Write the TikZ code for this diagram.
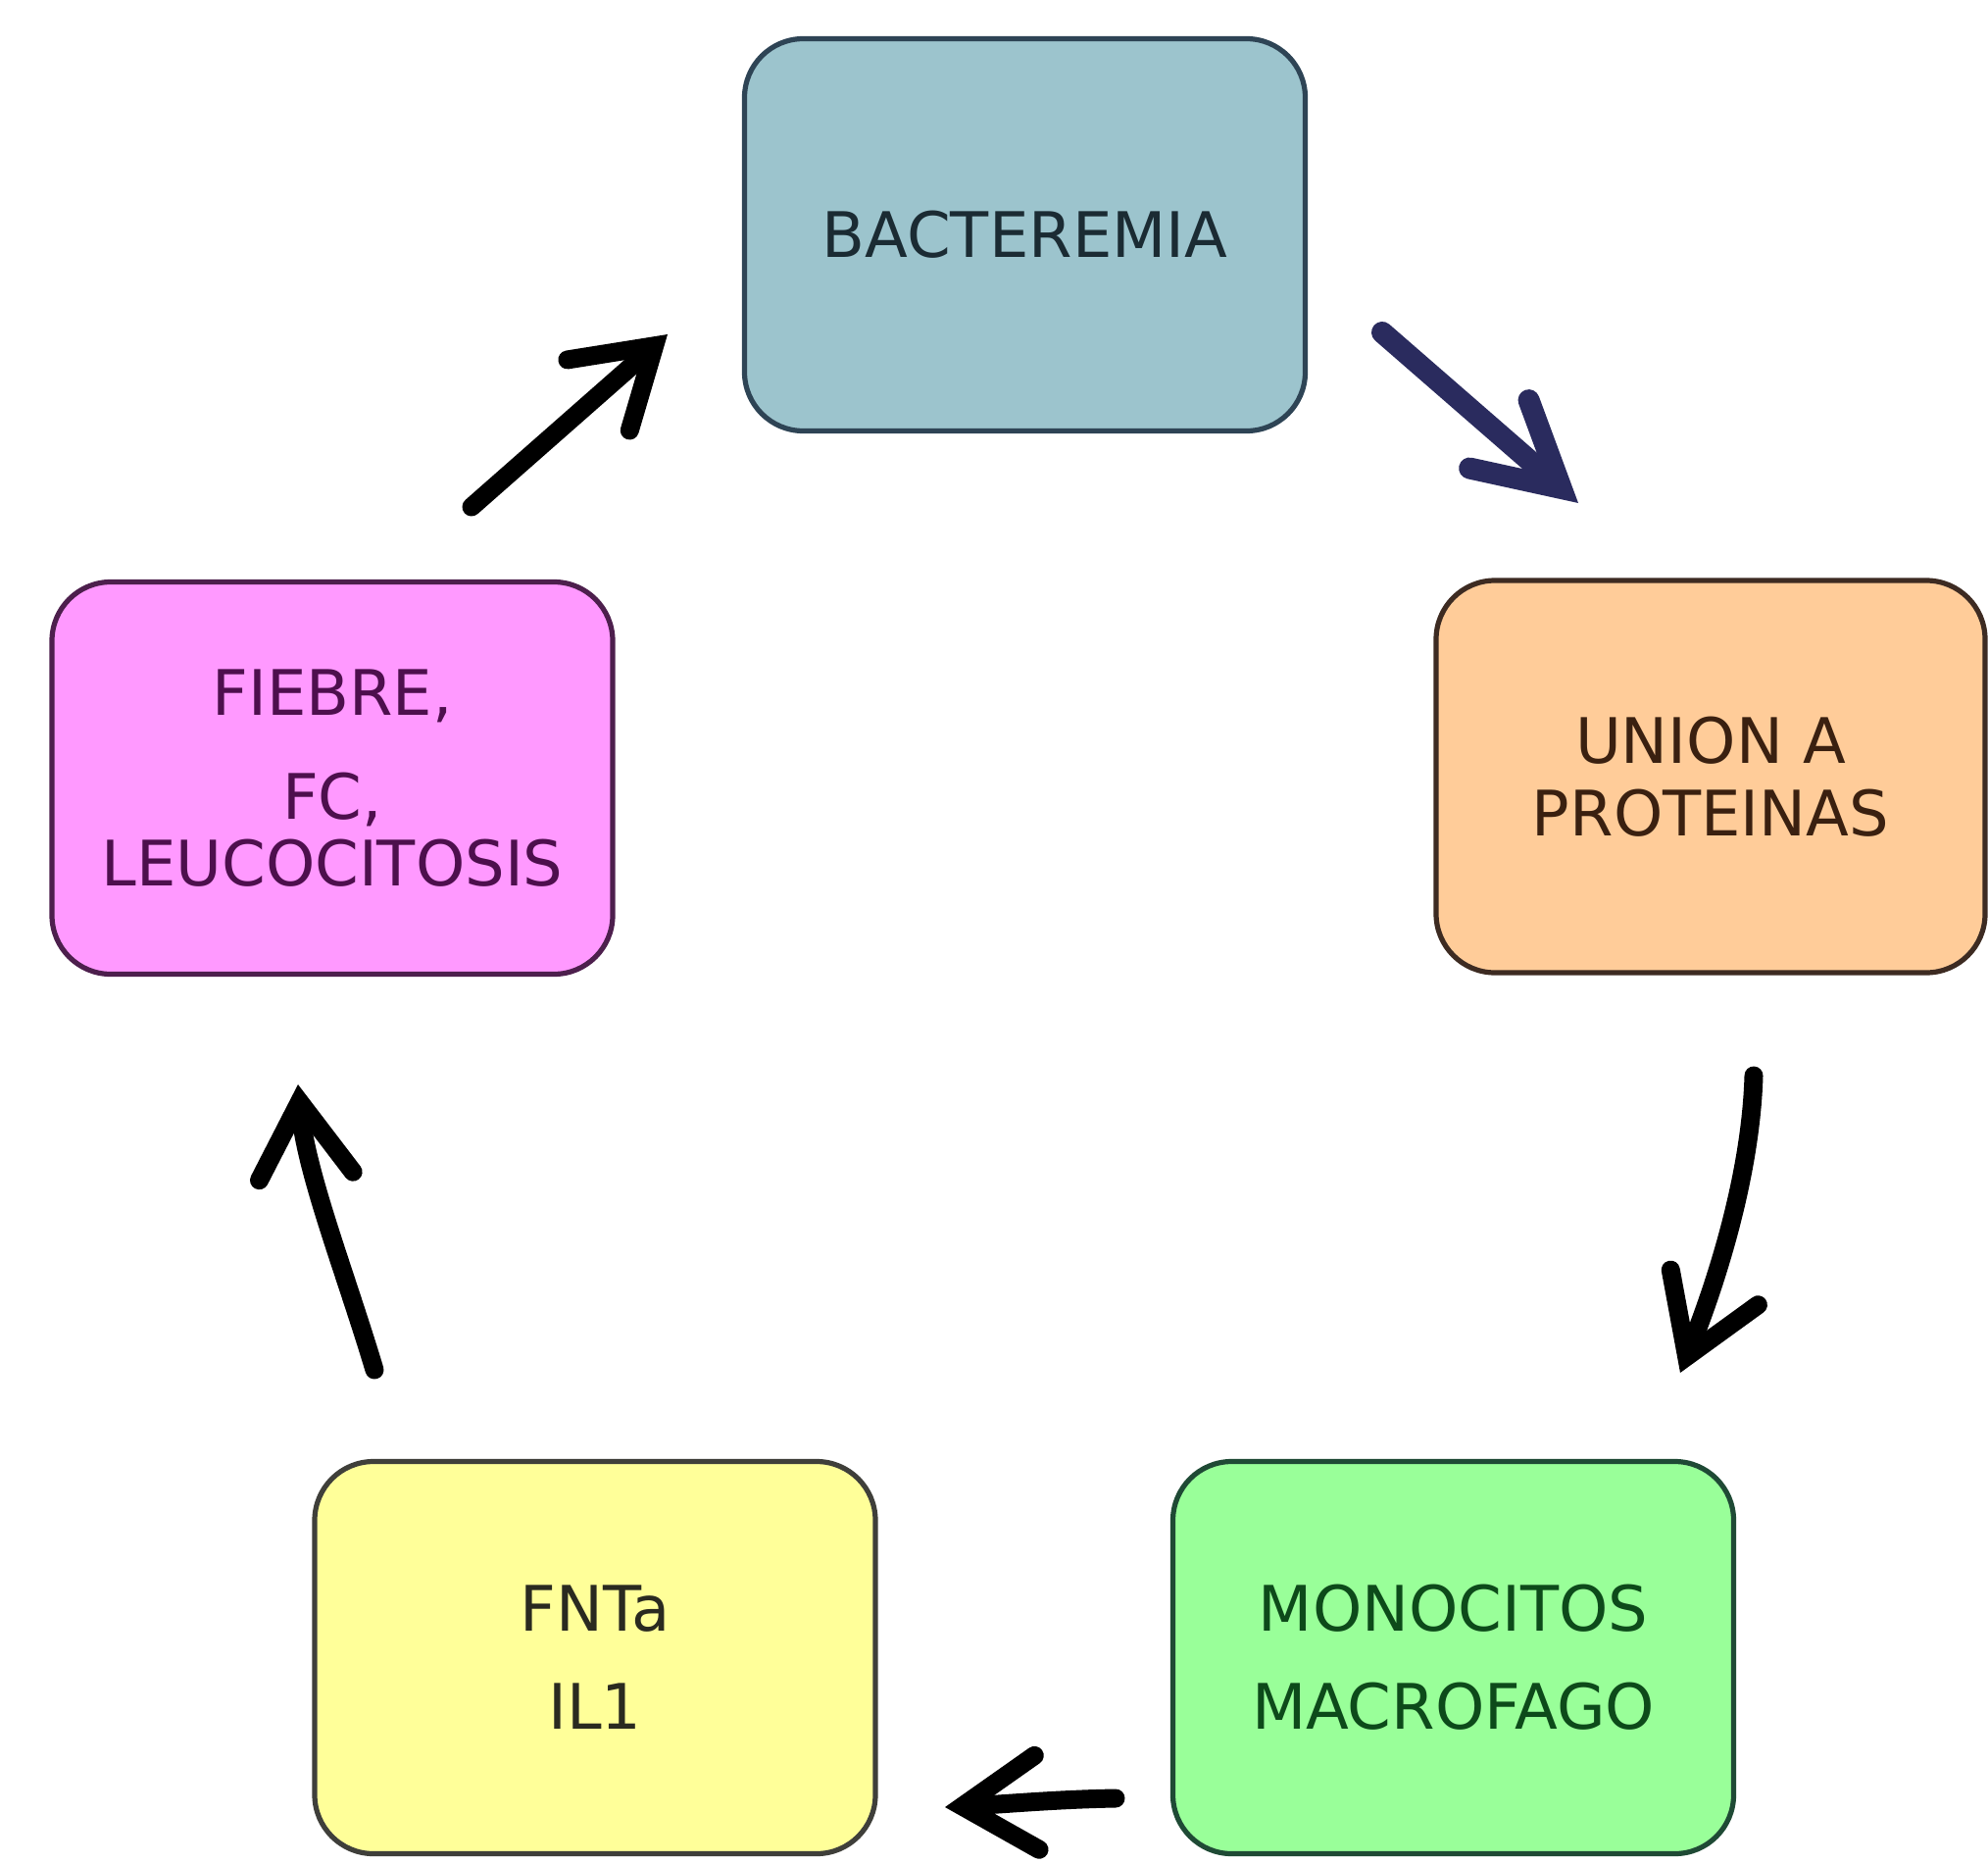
\documentclass[tikz,border=0pt]{standalone}
\usepackage{fontspec}
\setmainfont{DejaVu Sans}
\usetikzlibrary{arrows.meta}
\definecolor{bactfill}{HTML}{9CC4CD}
\definecolor{bactdraw}{HTML}{2E4455}
\definecolor{bacttext}{HTML}{1B2B33}
\definecolor{unionfill}{HTML}{FFCC99}
\definecolor{uniondraw}{HTML}{3D2B22}
\definecolor{uniontext}{HTML}{3A2010}
\definecolor{fiebrefill}{HTML}{FF99FF}
\definecolor{fiebredraw}{HTML}{4D1F4D}
\definecolor{fiebretext}{HTML}{4D0F4D}
\definecolor{fntafill}{HTML}{FFFF99}
\definecolor{fntadraw}{HTML}{3F3F3A}
\definecolor{fntatext}{HTML}{2A2A20}
\definecolor{monofill}{HTML}{99FF99}
\definecolor{monodraw}{HTML}{1F4A35}
\definecolor{monotext}{HTML}{0D4A1A}
\definecolor{navyarrow}{HTML}{2A2B5E}
\begin{document}
\begin{tikzpicture}[x=0.5pt,y=-0.5pt,
  box/.style={rounded corners=30pt, line width=2.6pt, minimum width=286pt,
    minimum height=200pt, align=center, inner sep=0pt,
    font=\fontsize{32}{37}\selectfont},
  arr/.style={line width=9.5pt, line cap=round,
    -{Straight Barb[length=38pt,width=48pt,line cap=round,line join=miter]}},
  navyarr/.style={line width=11pt, line cap=round, color=navyarrow,
    -{Straight Barb[length=42pt,width=46pt,line cap=round,line join=miter]}}]
\useasboundingbox (0,0) rectangle (2028,1900);
\fill[white] (0,0) rectangle (2028,1900);

\node[box, fill=bactfill, draw=bactdraw, text=bacttext] (bact) at (1045.5,239.5) {BACTEREMIA};
\node[box, fill=unionfill, draw=uniondraw, text=uniontext, minimum width=280pt] (union) at (1745,792) {UNION A\\PROTEINAS};
\node[box, fill=fiebrefill, draw=fiebredraw, text=fiebretext] (fiebre) at (339,793.5) {FIEBRE,\\[16pt]FC,\\[-3pt]LEUCOCITOSIS};
\node[box, fill=fntafill, draw=fntadraw, text=fntatext] (fnta) at (607,1690.5) {FNTa\\[13pt]IL1};
\node[box, fill=monofill, draw=monodraw, text=monotext] (mono) at (1482.5,1690.5) {MONOCITOS\\[13pt]MACROFAGO};

\coordinate (a1s) at (1410,339);  \coordinate (a1e) at (1610,513);
\coordinate (a2s) at (1789,1097); \coordinate (a2e) at (1714,1400);
\coordinate (a3s) at (1138,1834); \coordinate (a3e) at (964,1843);
\coordinate (a4s) at (382,1397);  \coordinate (a4e) at (304,1106);
\coordinate (a5s) at (481,517);   \coordinate (a5e) at (681,341);

\draw[navyarr] (a1s) -- (a1e);
\draw[arr] (a2s) .. controls +(-3,103) and +(36,-90) .. (a2e);
\draw[arr] (a3s) .. controls +(-60,1) and +(60,-3) .. (a3e);
\draw[arr] (a4s) .. controls +(-30,-100) and +(8,90) .. (a4e);
\draw[arr] (a5s) -- (a5e);
\end{tikzpicture}
\end{document}
